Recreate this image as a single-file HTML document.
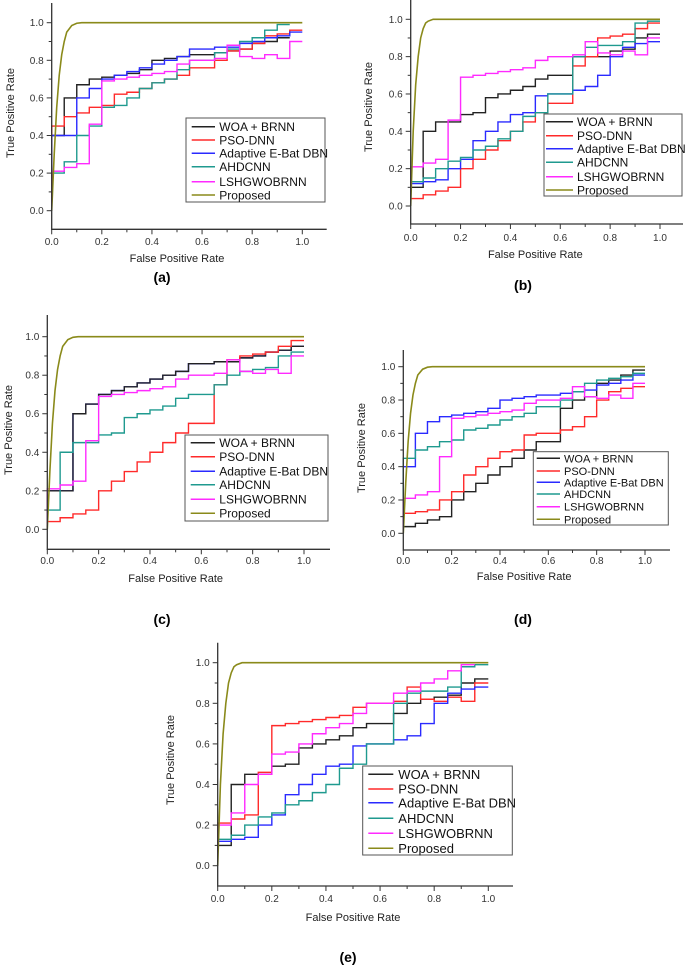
<!DOCTYPE html>
<html><head><meta charset="utf-8"><style>
body{margin:0;background:#fff;width:685px;height:966px;overflow:hidden}
svg{display:block}
text{font-family:"Liberation Sans",sans-serif}
</style></head><body>
<svg id="s" width="685" height="966" viewBox="0 0 685 966" xmlns="http://www.w3.org/2000/svg"></svg>
<script>
const seriesNames = ["WOA + BRNN","PSO-DNN","Adaptive E-Bat DBN","AHDCNN","LSHGWOBRNN","Proposed"];
const seriesColors = ["#222222","#ff2a2a","#2a2aff","#1f9a8f","#ff2aff","#8a8a1a"];
const xTicks = ["0.0","0.2","0.4","0.6","0.8","1.0"];
const yTicks = ["0.0","0.2","0.4","0.6","0.8","1.0"];
const stepWidth = 0.05;
const proposedX = [0,0.01,0.02,0.03,0.04,0.05,0.06,0.08,0.1,0.12,1];
const proposedY = [0,0.3,0.55,0.72,0.83,0.9,0.95,0.985,0.997,1,1];
const proposedXfast = [0,0.01,0.02,0.03,0.04,0.05,0.06,0.07,0.09,1];
const proposedYfast = [0,0.4,0.65,0.8,0.9,0.95,0.98,0.99,1,1];

const aWoa=[0.4,0.6,0.67,0.7,0.71,0.72,0.73,0.75,0.8,0.81,0.82,0.83,0.83,0.84,0.85,0.86,0.89,0.9,0.92];
const aPso=[0.45,0.5,0.52,0.55,0.56,0.62,0.63,0.65,0.68,0.7,0.72,0.76,0.76,0.8,0.85,0.86,0.89,0.93,0.94,0.96];
const aBat=[0.4,0.4,0.6,0.65,0.7,0.72,0.74,0.76,0.78,0.8,0.82,0.86,0.86,0.87,0.87,0.89,0.9,0.92,0.93,0.95];
const aAhd=[0.2,0.26,0.4,0.45,0.55,0.56,0.6,0.65,0.68,0.7,0.75,0.8,0.8,0.84,0.86,0.9,0.92,0.96,0.99];
const aLsh=[0.21,0.23,0.25,0.46,0.69,0.7,0.71,0.72,0.73,0.74,0.78,0.8,0.8,0.81,0.88,0.82,0.81,0.83,0.81,0.9];

const bWoa=[0.1,0.4,0.45,0.45,0.49,0.5,0.58,0.6,0.62,0.64,0.68,0.7,0.7,0.8,0.8,0.8,0.83,0.84,0.9,0.92];
const bPso=[0.04,0.06,0.08,0.1,0.2,0.25,0.3,0.35,0.4,0.45,0.5,0.55,0.55,0.75,0.8,0.9,0.91,0.92,0.95,0.98];
const bBat=[0.12,0.13,0.14,0.2,0.25,0.35,0.4,0.45,0.49,0.5,0.59,0.6,0.6,0.62,0.64,0.7,0.8,0.85,0.87,0.88];
const bAhd=[0.13,0.15,0.2,0.24,0.26,0.3,0.32,0.36,0.4,0.48,0.5,0.6,0.6,0.8,0.85,0.86,0.86,0.88,0.98,0.99];
const bLsh=[0.21,0.23,0.25,0.46,0.69,0.7,0.71,0.72,0.73,0.74,0.78,0.8,0.8,0.81,0.88,0.82,0.81,0.83,0.81,0.9];

const cWoa=[0.2,0.2,0.6,0.65,0.7,0.72,0.74,0.76,0.78,0.8,0.82,0.86,0.86,0.87,0.87,0.89,0.9,0.92,0.93,0.95];
const cPso=[0.04,0.06,0.08,0.1,0.2,0.25,0.3,0.35,0.4,0.45,0.5,0.55,0.55,0.75,0.88,0.9,0.91,0.92,0.95,0.98];
const cBat=[0.2,0.2,0.6,0.65,0.7,0.72,0.74,0.76,0.78,0.8,0.82,0.86,0.86,0.87,0.87,0.89,0.9,0.92,0.93,0.95];
const cAhd=[0.1,0.4,0.45,0.45,0.49,0.5,0.58,0.6,0.62,0.64,0.68,0.7,0.7,0.75,0.8,0.82,0.83,0.84,0.9,0.92];
const cLsh=[0.21,0.23,0.25,0.46,0.69,0.7,0.71,0.72,0.73,0.74,0.78,0.8,0.8,0.81,0.88,0.82,0.81,0.83,0.81,0.9];

const dWoa=[0.04,0.06,0.08,0.1,0.2,0.25,0.3,0.35,0.4,0.45,0.5,0.55,0.55,0.75,0.8,0.82,0.9,0.92,0.95,0.98];
const dPso=[0.12,0.13,0.14,0.2,0.25,0.35,0.4,0.45,0.49,0.5,0.59,0.6,0.6,0.62,0.64,0.7,0.8,0.85,0.87,0.88];
const dBat=[0.4,0.6,0.67,0.7,0.71,0.72,0.73,0.75,0.8,0.81,0.82,0.83,0.83,0.84,0.85,0.86,0.89,0.9,0.92,0.95];
const dAhd=[0.45,0.5,0.52,0.55,0.56,0.62,0.63,0.65,0.68,0.7,0.72,0.76,0.76,0.8,0.85,0.9,0.92,0.93,0.94,0.96];
const dLsh=[0.21,0.23,0.25,0.46,0.69,0.7,0.71,0.72,0.73,0.74,0.78,0.8,0.8,0.81,0.88,0.82,0.81,0.83,0.81,0.9];

const eWoa=[0.1,0.4,0.45,0.45,0.49,0.5,0.58,0.6,0.62,0.64,0.68,0.7,0.7,0.75,0.8,0.82,0.83,0.84,0.9,0.92];
const ePso=[0.21,0.23,0.25,0.46,0.69,0.7,0.71,0.72,0.73,0.74,0.78,0.8,0.8,0.81,0.88,0.82,0.81,0.83,0.81,0.9];
const eBat=[0.12,0.13,0.14,0.2,0.25,0.35,0.4,0.45,0.49,0.5,0.59,0.6,0.6,0.62,0.64,0.7,0.8,0.85,0.87,0.88];
const eAhd=[0.13,0.15,0.2,0.24,0.26,0.3,0.32,0.36,0.4,0.48,0.5,0.6,0.6,0.8,0.85,0.86,0.86,0.88,0.98,0.99];
const eLsh=[0.2,0.26,0.4,0.45,0.55,0.56,0.6,0.65,0.68,0.7,0.75,0.8,0.8,0.85,0.86,0.9,0.92,0.96,0.99];

const panels=[
 {id:"a",x0:51.7,x1:302.3,y1:22.7,y0:210.7,axB:229.3,axT:3,axR:326.7,tickY:245,titleY:262,capX:162,capY:282,ytX:14,ytY:113,
  leg:{x:186,y:118,w:139,h:84,rows:[126.7,140,153.3,166.7,181.7,195],lx:191.7,lx2:215,tx:219.3,fs:12},
  series:[aWoa,aPso,aBat,aAhd,aLsh],px:proposedX,py:proposedY},
 {id:"b",x0:410.7,x1:660,y1:19.3,y0:206,axB:224,axT:0,axR:683,tickY:241,titleY:258,capX:523,capY:290,ytX:372,ytY:107,
  leg:{x:544,y:114,w:138,h:82,rows:[121.7,135.7,148.7,162.3,176.7,190],lx:546,lx2:573,tx:577,fs:12},
  series:[bWoa,bPso,bBat,bAhd,bLsh],px:proposedXfast,py:proposedYfast},
 {id:"c",x0:47.3,x1:304,y1:336.7,y0:529.3,axB:549.3,axT:315,axR:330,tickY:564,titleY:582,capX:162,capY:624,ytX:12,ytY:430,
  leg:{x:185,y:435,w:143,h:86,rows:[442.7,456.7,471.3,484.7,499.3,513.3],lx:190.7,lx2:215,tx:219.3,fs:12},
  series:[cWoa,cPso,cBat,cAhd,cLsh],order:[2,0,1,3,4],px:proposedX,py:proposedY},
 {id:"d",x0:403.3,x1:645,y1:366.7,y0:533.3,axB:550,axT:350,axR:670,tickY:564,titleY:580,capX:523,capY:624,ytX:365,ytY:448,
  leg:{x:533.3,y:451.7,w:135,h:73.3,rows:[458.3,471,482.3,494,506.7,519.3],lx:536.7,lx2:560,tx:564,fs:11},
  series:[dWoa,dPso,dBat,dAhd,dLsh],px:proposedX,py:proposedY},
 {id:"e",x0:217.7,x1:488.3,y1:662.7,y0:865.7,axB:886,axT:642.7,axR:513,tickY:902,titleY:921,capX:348,capY:962,ytX:174,ytY:760,
  leg:{x:362.7,y:766,w:149.6,h:89,rows:[774.3,789,802.7,818.3,833.3,848.3],lx:368.3,lx2:393.3,tx:398.3,fs:13},
  series:[eWoa,ePso,eBat,eAhd,eLsh],px:proposedXfast,py:proposedYfast}
];
const NS="http://www.w3.org/2000/svg";
const svg=document.getElementById("s");
function mk(tag,attrs,parent,txt){const e=document.createElementNS(NS,tag);for(const k in attrs)e.setAttribute(k,attrs[k]);if(txt!==undefined)e.textContent=txt;(parent||svg).appendChild(e);return e;}
panels.forEach(p=>{
  const g=mk("g",{});
  
  
  const sx=v=>p.x0+(p.x1-p.x0)*v;
  const sy=v=>p.y0-(p.y0-p.y1)*v;
  const idxs=p.order||[0,1,2,3,4];
  idxs.forEach(si=>{
    const vals=p.series[si];
    let d="M"+sx(0)+","+sy(0);
    vals.forEach((v,i)=>{d+=" V"+sy(v)+" H"+sx((i+1)*stepWidth);});
    const path=mk("path",{d:d,fill:"none",stroke:seriesColors[si],"stroke-width":1.4},g);
    
    
  });
  let d="";
  p.px.forEach((x,i)=>{d+=(i?" L":"M")+sx(x)+","+sy(p.py[i]);});
  const pp=mk("path",{d:d,fill:"none",stroke:seriesColors[5],"stroke-width":1.6},g);
  
  
  const ax=mk("path",{d:`M${p.x0},${p.axT} V${p.axB} H${p.axR}`,fill:"none",stroke:"#333","stroke-width":1.3},g);
  
  
  for(let i=0;i<=10;i++){
    const v=i/10, big=i%2===0;
    mk("line",{x1:sx(v),x2:sx(v),y1:p.axB,y2:p.axB+(big?5:3),stroke:"#333","stroke-width":1},g);
    mk("line",{x1:p.x0,x2:p.x0-(big?5:3),y1:sy(v),y2:sy(v),stroke:"#333","stroke-width":1},g);
  }
  xTicks.forEach((t,i)=>{const e=mk("text",{x:sx(i*0.2),y:p.tickY,"font-size":10,"text-anchor":"middle",fill:"#333"},g,t);
    });
  yTicks.forEach((t,i)=>{const e=mk("text",{x:p.x0-8,y:sy(i*0.2)+3.5,"font-size":10,"text-anchor":"end",fill:"#333"},g,t);
    });
  const xt=mk("text",{x:(p.x0+p.x1)/2,y:p.titleY,"font-size":11,"text-anchor":"middle",fill:"#222"},g,"False Positive Rate");
  
  const yt=mk("text",{x:p.ytX,y:p.ytY,"font-size":11,"text-anchor":"middle",fill:"#222",transform:`rotate(-90 ${p.ytX} ${p.ytY})`},g,"True Positive Rate");
  
  const cap=mk("text",{x:p.capX,y:p.capY,"font-size":14,"font-weight":"bold","text-anchor":"middle",fill:"#000","font-family":"Liberation Serif, serif"},g,"("+p.id+")");
  
  const L=p.leg;
  const lg=mk("g",{},g);
  
  
  mk("rect",{x:L.x,y:L.y,width:L.w,height:L.h,fill:"#fff",stroke:"#555","stroke-width":1},lg);
  seriesNames.forEach((n,i)=>{
    const row=mk("g",{},lg);
    
    
    mk("line",{x1:L.lx,x2:L.lx2,y1:L.rows[i],y2:L.rows[i],stroke:seriesColors[i],"stroke-width":1.5},row);
    mk("text",{x:L.tx,y:L.rows[i]+L.fs*0.36,"font-size":L.fs,fill:"#111"},row,n);
  });
});
</script>
</body></html>
